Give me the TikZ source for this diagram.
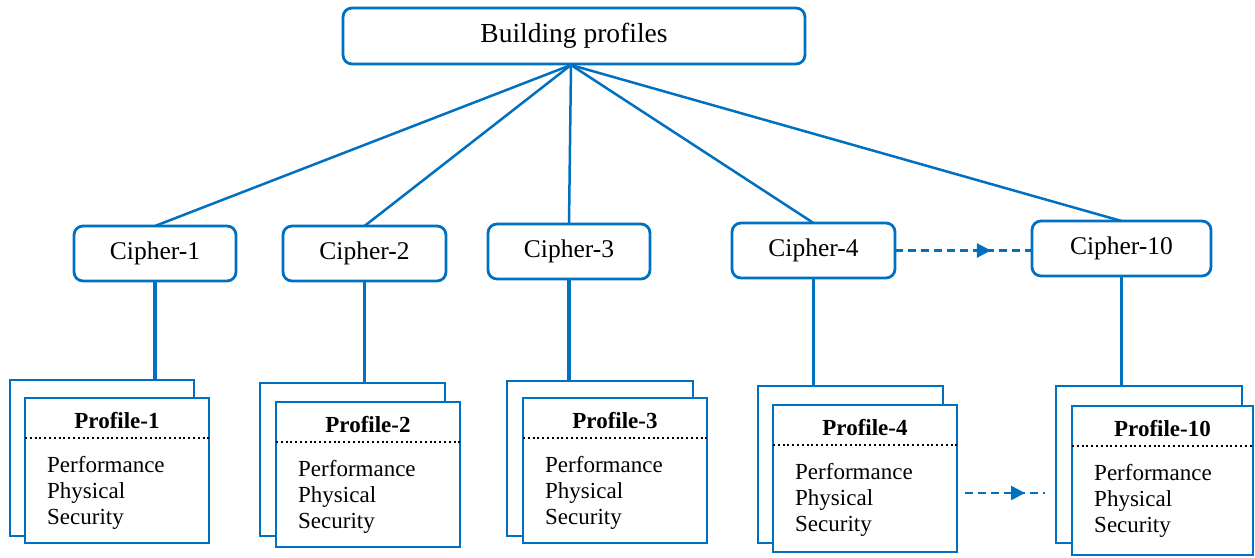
\documentclass[tikz,border=0pt]{standalone}
\usepackage{fontspec}
\setmainfont{Liberation Serif}
\usetikzlibrary{arrows.meta,decorations.markings,calc}
\definecolor{ablue}{RGB}{0,112,192}
\tikzset{
  rbox/.style={draw=ablue, line width=2.8pt, rounded corners=9pt, fill=white, inner sep=0pt, outer sep=0pt, anchor=north west},
  pbox/.style={draw=ablue, line width=2.8pt, fill=white, inner sep=0pt, outer sep=0pt, anchor=north west},
  fanline/.style={draw=ablue, line width=2.5pt},
  vline/.style={draw=ablue, line width=3.5pt},
  sepline/.style={draw=black, line width=2.2pt, dash pattern=on 2pt off 2.8pt},
  ptitle/.style={font=\fontsize{23}{26}\selectfont\bfseries, anchor=base, inner sep=0pt},
  pbody/.style={font=\fontsize{23}{26}\selectfont, anchor=base west, inner sep=0pt},
  darrowA/.style={draw=ablue, line width=2.5pt, dash pattern=on 8pt off 5pt, postaction={decorate},
    decoration={markings, mark=at position 0.70 with {\arrow[solid]{Triangle[length=14pt,width=14pt]}}}},
  darrowB/.style={draw=ablue, line width=2.5pt, dash pattern=on 8pt off 5pt, postaction={decorate},
    decoration={markings, mark=at position 0.75 with {\arrow[solid]{Triangle[length=14pt,width=14pt]}}}},
}
\begin{document}
\begin{tikzpicture}[x=1pt,y=-1pt]
\useasboundingbox (0,0) rectangle (1255,557);
% top node
\node[rbox, minimum width=462pt, minimum height=56pt, font=\fontsize{27.5}{30}\selectfont] (top) at (343,8) {Building profiles};
\coordinate (fan) at (571,65);
% cipher nodes
\node[rbox, minimum width=162pt, minimum height=55pt, font=\fontsize{25.5}{28}\selectfont] (c1) at (74,226) {Cipher-1};
\node[rbox, minimum width=163pt, minimum height=55pt, font=\fontsize{25.5}{28}\selectfont] (c2) at (283,226) {Cipher-2};
\node[rbox, minimum width=162pt, minimum height=55pt, font=\fontsize{25.5}{28}\selectfont] (c3) at (488,224) {Cipher-3};
\node[rbox, minimum width=163pt, minimum height=55pt, font=\fontsize{25.5}{28}\selectfont] (c4) at (732,223) {Cipher-4};
\node[rbox, minimum width=179pt, minimum height=55pt, font=\fontsize{25.5}{28}\selectfont] (c10) at (1032,221) {Cipher-10};
% profiles
\foreach \id/\lab/\bx/\by/\bw/\bh/\fx/\fy/\fw/\fh in {
  1/Profile-1/10/380/184/156/25/398/184/145,
  2/Profile-2/260/383/185/153/276/402/184/145,
  3/Profile-3/507/381/186/155/523/398/184/145,
  4/Profile-4/758/386/185/157/773/405/184/147,
  10/Profile-10/1056/386/186/157/1072/406/181/149}{
  \node[pbox, minimum width=\bw pt, minimum height=\bh pt] (b\id) at (\bx,\by) {};
  \node[pbox, minimum width=\fw pt, minimum height=\fh pt] (f\id) at (\fx,\fy) {};
  \node[ptitle] (t\id) at ($(f\id.north)+(0,30)$) {\lab};
  \draw[sepline] ($(f\id.north west)+(0,40)$) -- ($(f\id.north east)+(0,40)$);
  \node[pbody] (pa\id) at ($(f\id.north west)+(22,74)$) {Performance};
  \node[pbody] (pb\id) at ($(f\id.north west)+(22,100)$) {Physical};
  \node[pbody] (pc\id) at ($(f\id.north west)+(22,126)$) {Security};
}
% fan connectors
\foreach \c in {c1,c2,c3,c4,c10}{
  \draw[fanline] (fan) -- (\c.north);
}
% vertical connectors
\foreach \c/\b in {c1/b1,c2/b2,c3/b3,c4/b4,c10/b10}{
  \draw[vline] (\c.south) -- (\c.south |- \b.north);
}
% dashed arrows
\draw[darrowA] (c4.east) -- (c4.east -| c10.west);
\coordinate (d1) at (965,493);
\coordinate (d2) at (1045,493);
\draw[darrowB] (d1) -- (d2);
\end{tikzpicture}
\end{document}
